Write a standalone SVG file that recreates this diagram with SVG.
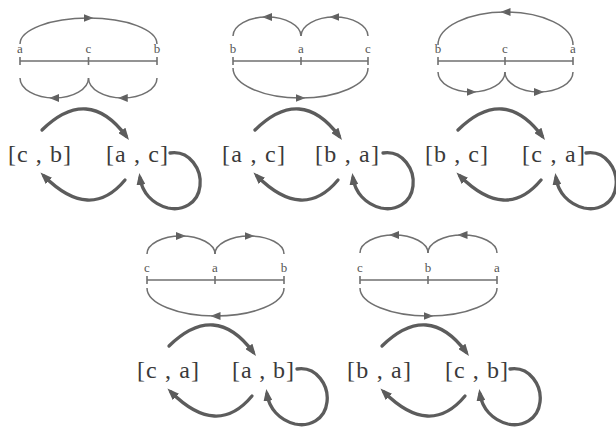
<svg xmlns="http://www.w3.org/2000/svg" xmlns:xlink="http://www.w3.org/1999/xlink" width="616" height="427" viewBox="0 0 616 427">
<style>
.thin{fill:none;stroke:#707070;stroke-width:1.5}
.tm{fill:none;stroke:#707070;stroke-width:1.5;marker-end:url(#mt)}
.ax{fill:none;stroke:#707070;stroke-width:1.6}
.bold{fill:none;stroke:#5c5c5c;stroke-width:3.3;stroke-linecap:round;marker-end:url(#mb)}
.lab{font-family:"Liberation Serif",serif;font-size:13px;fill:#555;text-anchor:middle}
.node{font-family:"Liberation Serif",serif;font-size:24px;fill:#3a3a3a}
</style>
<defs>
<marker id="mt" markerUnits="userSpaceOnUse" markerWidth="10" markerHeight="8" refX="5" refY="4" orient="auto" viewBox="0 0 10 8"><path d="M0,0 L10,4 L0,8 z" fill="#606060"/></marker>
<marker id="mb" markerUnits="userSpaceOnUse" markerWidth="12" markerHeight="9" refX="7" refY="4.5" orient="auto" viewBox="0 0 12 9"><path d="M0,0 L12,4.5 L0,9 z" fill="#5c5c5c"/></marker>
<g id="cyc">
<path class="bold" d="M42,130 Q88,85 126,136"/>
<path class="bold" d="M125,180 Q90,222 44,176"/>
<path class="bold" d="M170,153 C190,150 202,170 200,186 C198,204 182,211 168,208 C152,204 142,192 140,178"/>
</g>
</defs>
<rect width="616" height="427" fill="#fff"/>

<g id="panel1">
<path class="ax" d="M20,61 H157 M20,57 V65 M88.5,57 V65 M157,57 V65"/>
<text class="lab" x="20" y="53">a</text><text class="lab" x="88.5" y="53">c</text><text class="lab" x="157" y="53">b</text>
<path class="tm" d="M20,44 A68.5,26 0 0 1 88.5,18"/><path class="thin" d="M88.5,18 A68.5,26 0 0 1 157,44"/>
<path class="tm" d="M88.5,78 A34.25,20 0 0 1 54.25,98"/><path class="thin" d="M54.25,98 A34.25,20 0 0 1 20,78"/>
<path class="tm" d="M157,78 A34.25,20 0 0 1 122.75,98"/><path class="thin" d="M122.75,98 A34.25,20 0 0 1 88.5,78"/>
</g>
<g id="panel2">
<path class="ax" d="M233,61 H368 M233,57 V65 M301,57 V65 M368,57 V65"/>
<text class="lab" x="233" y="53">b</text><text class="lab" x="301" y="53">a</text><text class="lab" x="368" y="53">c</text>
<path class="tm" d="M301,36 A34,19 0 0 0 267,17"/><path class="thin" d="M267,17 A34,19 0 0 0 233,36"/>
<path class="tm" d="M368,36 A33.5,19 0 0 0 334.5,17"/><path class="thin" d="M334.5,17 A33.5,19 0 0 0 301,36"/>
<path class="tm" d="M233,68 A67.5,30 0 0 0 300.5,98"/><path class="thin" d="M300.5,98 A67.5,30 0 0 0 368,68"/>
</g>
<g id="panel3">
<path class="ax" d="M438,61 H573 M438,57 V65 M505,57 V65 M573,57 V65"/>
<text class="lab" x="438" y="53">b</text><text class="lab" x="505" y="53">c</text><text class="lab" x="573" y="53">a</text>
<path class="tm" d="M573,45 A67.5,33 0 0 0 505.5,12"/><path class="thin" d="M505.5,12 A67.5,33 0 0 0 438,45"/>
<path class="tm" d="M438,72 A33.5,20 0 0 0 471.5,92"/><path class="thin" d="M471.5,92 A33.5,20 0 0 0 505,72"/>
<path class="tm" d="M505,72 A34,20 0 0 0 539,92"/><path class="thin" d="M539,92 A34,20 0 0 0 573,72"/>
</g>
<g id="panel4">
<path class="ax" d="M147,280 H284 M147,276 V284 M215,276 V284 M284,276 V284"/>
<text class="lab" x="147" y="272">c</text><text class="lab" x="215" y="272">a</text><text class="lab" x="284" y="272">b</text>
<path class="tm" d="M147,254 A34,18 0 0 1 181,236"/><path class="thin" d="M181,236 A34,18 0 0 1 215,254"/>
<path class="tm" d="M215,254 A34.5,18 0 0 1 249.5,236"/><path class="thin" d="M249.5,236 A34.5,18 0 0 1 284,254"/>
<path class="tm" d="M284,288 A68.5,28 0 0 1 215.5,316"/><path class="thin" d="M215.5,316 A68.5,28 0 0 1 147,288"/>
</g>
<g id="panel5">
<path class="ax" d="M360,280 H497 M360,276 V284 M428,276 V284 M497,276 V284"/>
<text class="lab" x="360" y="272">c</text><text class="lab" x="428" y="272">b</text><text class="lab" x="497" y="272">a</text>
<path class="tm" d="M428,253 A34,18 0 0 0 394,235"/><path class="thin" d="M394,235 A34,18 0 0 0 360,253"/>
<path class="tm" d="M497,253 A34.5,18 0 0 0 462.5,235"/><path class="thin" d="M462.5,235 A34.5,18 0 0 0 428,253"/>
<path class="tm" d="M360,288 A68.5,28 0 0 0 428.5,316"/><path class="thin" d="M428.5,316 A68.5,28 0 0 0 497,288"/>
</g>

<g id="n1a"><text class="node" x="8" y="162" textLength="63" lengthAdjust="spacing" xml:space="preserve">[c , b]</text></g>
<g id="n1b"><text class="node" x="106" y="162" textLength="62" lengthAdjust="spacing" xml:space="preserve">[a , c]</text></g>
<g id="n2a"><text class="node" x="222" y="162" textLength="63" lengthAdjust="spacing" xml:space="preserve">[a , c]</text></g>
<g id="n2b"><text class="node" x="315" y="162" textLength="64" lengthAdjust="spacing" xml:space="preserve">[b , a]</text></g>
<g id="n3a"><text class="node" x="425" y="162" textLength="63" lengthAdjust="spacing" xml:space="preserve">[b , c]</text></g>
<g id="n3b"><text class="node" x="522" y="162" textLength="63" lengthAdjust="spacing" xml:space="preserve">[c , a]</text></g>
<g id="n4a"><text class="node" x="137" y="378" textLength="62" lengthAdjust="spacing" xml:space="preserve">[c , a]</text></g>
<g id="n4b"><text class="node" x="232" y="378" textLength="62" lengthAdjust="spacing" xml:space="preserve">[a , b]</text></g>
<g id="n5a"><text class="node" x="347" y="378" textLength="64" lengthAdjust="spacing" xml:space="preserve">[b , a]</text></g>
<g id="n5b"><text class="node" x="445" y="378" textLength="63" lengthAdjust="spacing" xml:space="preserve">[c , b]</text></g>

<g id="connectors">
<use xlink:href="#cyc"/>
<use xlink:href="#cyc" x="213" y="0"/>
<use xlink:href="#cyc" x="416" y="0"/>
<use xlink:href="#cyc" x="127" y="216"/>
<use xlink:href="#cyc" x="340" y="216"/>
</g>
</svg>
